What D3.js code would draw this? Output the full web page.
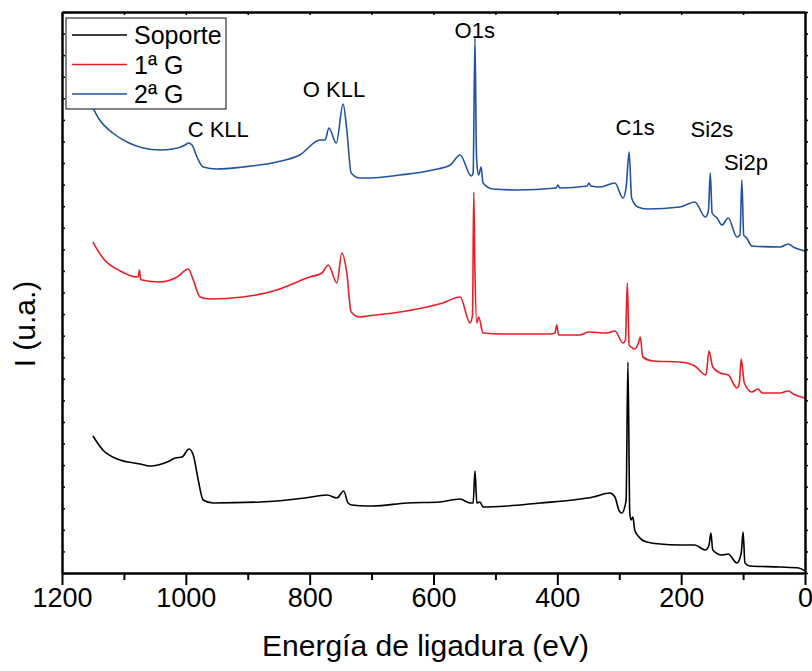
<!DOCTYPE html>
<html>
<head>
<meta charset="utf-8">
<script src="https://cdn.jsdelivr.net/npm/d3@7"></script>
<style>
  html, body { margin: 0; padding: 0; background: #fff; }
  svg { display: block; font-family: "Liberation Sans", Arial, sans-serif; }
</style>
</head>
<body>
<svg id="chart" width="812" height="671"></svg>
<script>
// ---- Data (binding energy in eV, intensity in arbitrary units) ----
const seriesNames = ["Soporte", "1ª G", "2ª G"];
const seriesColors = ["#000000", "#ee1c25", "#2352a4"];

const soporte = [
  [1150,137],[1134,123],[1111,114],[1074,109],[1058,107],[1030,111],[1017,115],[1006,116],
  [995,124],[988,118],[980,93],[972,73],[956,70],[880,71],[808,75],[772,78],[756,75],
  [745,82],[738,70],[732,68],[707,67],[698,67],[643,70],[590,71],[557,74],[541,70],
  [536,70],[533,102],[530,70],[525,71],[520,66],[481,67],[428,70],[375,73],[342,76],
  [315,80],[307,76],[300,62],[296,60],[289,72],[286,211],[283,60],[281,53],[278,56],
  [275,43],[268,36],[263,33],[255,31],[234,29],[202,28],[178,28],[161,23],[155,28],
  [152,40],[149,23],[134,18],[124,19],[110,10],[103,20],[100,41],[97,10],[89,7],
  [40,6],[10,5],[0,2]
];

const primeraG = [
  [1150,331],[1134,315],[1106,302],[1079,296],[1077,296],[1075,303],[1073,294],[1071,293],
  [1042,291],[1014,296],[996,304],[988,293],[977,276],[961,274],[908,276],[853,283],
  [800,296],[780,300],[770,308],[756,290],[748,320],[740,300],[733,261],[719,256],
  [707,257],[654,261],[585,270],[557,276],[541,250],[537,258],[535,381],[533,300],
  [530,250],[527,256],[520,240],[488,239],[412,239],[404,240],[401,248],[398,238],
  [363,238],[350,241],[320,240],[307,242],[294,230],[290,233],[287,290],[284,228],
  [281,226],[275,224],[269,230],[266,236],[262,216],[245,212],[202,211],[178,207],
  [160,198],[155,222],[149,206],[137,200],[124,198],[110,185],[106,190],[103,214],
  [98,190],[86,181],[76,184],[69,180],[40,180],[27,182],[19,179],[0,175]
];

const segundaG = [
  [1150,465],[1139,453],[1118,440],[1095,431],[1069,425],[1042,423],[1021,424],[1001,428],
  [996,430],[990,428],[982,416],[972,406],[950,404],[908,406],[853,411],[816,418],
  [783,433],[775,433],[769,445],[757,430],[746,469],[740,443],[733,400],[719,395],
  [707,395],[654,398],[601,403],[573,408],[557,418],[539,397],[536,400],[533,535],
  [531,430],[530,410],[527,398],[523,406],[520,390],[504,384],[465,383],[402,385],
  [399,388],[396,385],[352,387],[349,390],[346,387],[331,386],[307,390],[294,375],
  [289,385],[284,421],[280,375],[270,366],[255,364],[202,366],[178,371],[161,356],
  [156,362],[153,400],[150,360],[142,355],[134,348],[124,355],[110,336],[105,338],
  [102,393],[99,338],[94,335],[86,327],[40,326],[27,329],[19,326],[0,322]
];

const xTickValues = [1200, 1000, 800, 600, 400, 200, 0];
const xMinorValues = [1100, 900, 700, 500, 300, 100];
const peakLabels = [
  {text: "C KLL", e: 997, v: 436},
  {text: "O KLL", e: 811, v: 476},
  {text: "O1s", e: 566, v: 535},
  {text: "C1s", e: 306, v: 438},
  {text: "Si2s", e: 185, v: 436},
  {text: "Si2p", e: 131, v: 403}
];

// ---- Layout ----
const svg = d3.select("#chart");
const L = 62, R = 805, T = 12, B = 573;
const x = d3.scaleLinear().domain([1200, 0]).range([L, R]);
const y = d3.scaleLinear().domain([0, 561]).range([B, T]);

// y minor ticks (no labels)
const yTickVals = d3.range(0, 27).map(i => i * 561 / 26);

// Curves
const line = d3.line()
  .x(d => x(d[0]))
  .y(d => y(d[1]))
  .curve(d3.curveMonotoneX);

const allSeries = [soporte, primeraG, segundaG];
svg.append("g").selectAll("path")
  .data(allSeries)
  .join("path")
  .attr("d", d => line(d))
  .attr("fill", "none")
  .attr("stroke", (d, i) => seriesColors[i])
  .attr("stroke-width", 1.6)
  .attr("stroke-linejoin", "round");

// Axes
const gx = svg.append("g").attr("transform", `translate(0,${B})`)
  .call(d3.axisBottom(x).tickValues(xTickValues).tickFormat(d3.format("d")).tickSize(12).tickSizeOuter(0));
gx.select(".domain").attr("stroke-width", 2.5);
gx.selectAll(".tick line").attr("stroke-width", 2);
gx.selectAll(".tick text")
  .attr("font-size", 27).attr("font-family", "Liberation Sans, Arial, sans-serif")
  .attr("fill", "#000").attr("y", 15).attr("dy", "0.71em");

svg.append("g").attr("transform", `translate(0,${B})`)
  .call(d3.axisBottom(x).tickValues(xMinorValues).tickFormat("").tickSize(7).tickSizeOuter(0))
  .call(g => g.select(".domain").remove())
  .selectAll(".tick line").attr("stroke-width", 2);

// top axis (frame)
svg.append("g").attr("transform", `translate(0,${T})`)
  .call(d3.axisBottom(x).tickValues(xTickValues.concat(xMinorValues)).tickFormat("").tickSize(3).tickSizeOuter(0))
  .call(g => g.select(".domain").attr("stroke-width", 2.5))
  .selectAll(".tick line").attr("stroke-width", 1.5);

// left axis
svg.append("g").attr("transform", `translate(${L},0)`)
  .call(d3.axisRight(y).tickValues(yTickVals).tickFormat("").tickSize(3).tickSizeOuter(0))
  .call(g => g.select(".domain").attr("stroke-width", 2.5))
  .selectAll(".tick line").attr("stroke-width", 1.5);

// right axis
svg.append("g").attr("transform", `translate(${R},0)`)
  .call(d3.axisRight(y).tickValues(yTickVals).tickFormat("").tickSize(3).tickSizeOuter(0))
  .call(g => g.select(".domain").attr("stroke-width", 2.5))
  .selectAll(".tick line").attr("stroke-width", 1.5);

// Axis titles
svg.append("text")
  .attr("x", (L + R) / 2 - 8).attr("y", 656)
  .attr("text-anchor", "middle")
  .attr("font-size", 30)
  .text("Energía de ligadura (eV)");

svg.append("text")
  .attr("transform", "translate(35,324) rotate(-90)")
  .attr("text-anchor", "middle")
  .attr("font-size", 30)
  .text("I (u.a.)");

// Peak labels
svg.append("g").selectAll("text")
  .data(peakLabels)
  .join("text")
  .attr("x", d => x(d.e))
  .attr("y", d => y(d.v))
  .attr("font-size", 22)
  .text(d => d.text);

// Legend
const lg = svg.append("g");
lg.append("rect")
  .attr("x", 66).attr("y", 18).attr("width", 160).attr("height", 91)
  .attr("fill", "#fff").attr("stroke", "#333").attr("stroke-width", 1.2);
const rows = lg.selectAll("g.row").data(seriesNames).join("g")
  .attr("class", "row")
  .attr("transform", (d, i) => `translate(0,${i * 29.5})`);
rows.append("line")
  .attr("x1", 72).attr("x2", 127).attr("y1", 35).attr("y2", 35)
  .attr("stroke", (d, i) => seriesColors[i]).attr("stroke-width", 1.6);
rows.append("text")
  .attr("x", 134).attr("y", 44)
  .attr("font-size", 25)
  .text(d => d);
</script>
</body>
</html>
